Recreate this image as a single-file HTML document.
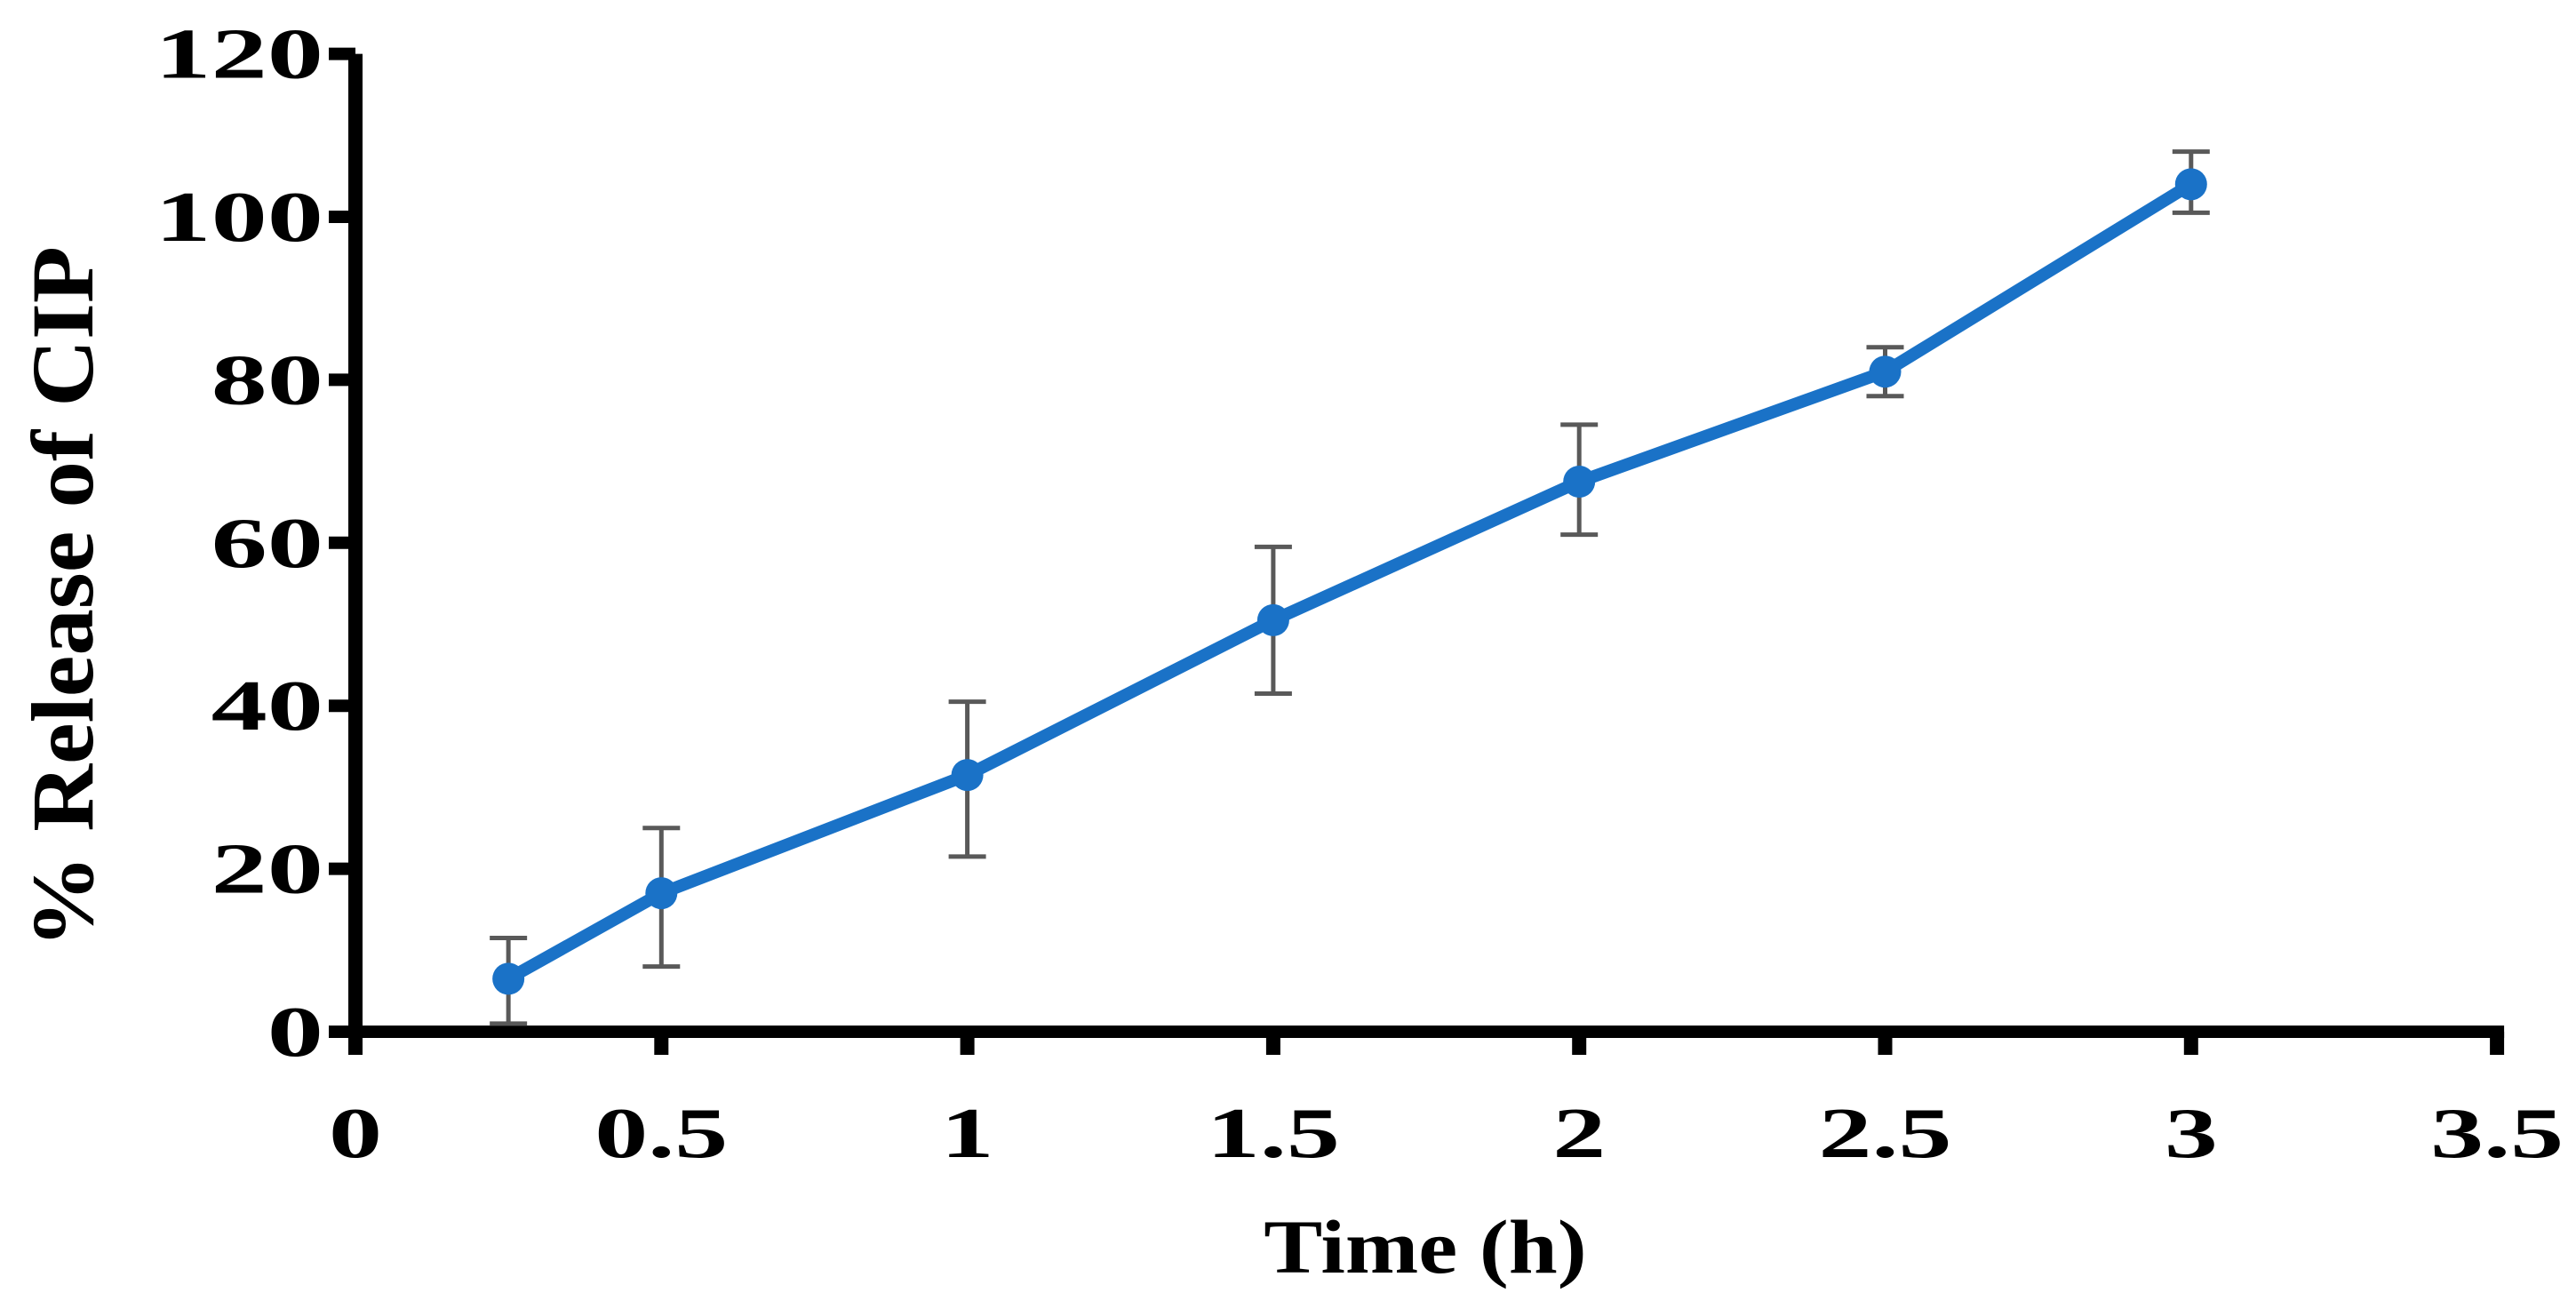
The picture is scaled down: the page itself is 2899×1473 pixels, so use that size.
<!DOCTYPE html>
<html><head><meta charset="utf-8"><style>
html,body{margin:0;padding:0;background:#fff;}
svg{display:block;}
text{font-family:"Liberation Serif",serif;font-weight:bold;fill:#000;}
</style></head><body>
<svg id="chart" width="2899" height="1473" viewBox="0 0 2899 1473">
<g id="axes"></g><g id="series"></g>
</svg>
<script>
const times=[0.25,0.5,1,1.5,2,2.5,3];
const release=[6.5,17,31.5,50.5,67.5,81,104];
const errUp=[11.5,25,40.5,59.5,74.5,84,108];
const errLow=[1,8,21.5,41.5,61,78,100.5];
const xTicks=[0,0.5,1,1.5,2,2.5,3,3.5];
const xTickLabels=["0","0.5","1","1.5","2","2.5","3","3.5"];
const yTicks=[0,20,40,60,80,100,120];
const yTickLabels=["0","20","40","60","80","100","120"];

const NS="http://www.w3.org/2000/svg";
const X0=400,XU=688.6,Y0=1161,YU=9.17;
const sx=v=>X0+v*XU, sy=v=>Y0-v*YU;
function mk(tag,attrs,parent,txt){const e=document.createElementNS(NS,tag);for(const k in attrs)e.setAttribute(k,attrs[k]);if(txt!==undefined)e.textContent=txt;parent.appendChild(e);return e;}
const axes=document.getElementById('axes'),series=document.getElementById('series');

let e=mk('line',{x1:sx(0),y1:sy(0)+12,x2:sx(0),y2:sy(120),stroke:'#000','stroke-width':16},axes);

e=mk('line',{x1:sx(0)-8,y1:sy(0),x2:sx(3.5)+8,y2:sy(0),stroke:'#000','stroke-width':14},axes);


yTicks.forEach((v,i)=>{
  const t=mk('line',{x1:sx(0)-30,y1:sy(v),x2:sx(0),y2:sy(v),stroke:'#000','stroke-width':14},axes);
  
  const l=mk('text',{x:0,y:0,'text-anchor':'end','font-size':80,transform:'translate(364,'+(sy(v)+27)+') scale(1.58,1)'},axes,yTickLabels[i]);
  
});
xTicks.forEach((v,i)=>{
  const t=mk('line',{x1:sx(v),y1:sy(0),x2:sx(v),y2:sy(0)+26,stroke:'#000','stroke-width':16},axes);
  
  const l=mk('text',{x:0,y:0,'text-anchor':'middle','font-size':80,transform:'translate('+sx(v)+',1302) scale(1.5,1)'},axes,xTickLabels[i]);
  
});
e=mk('text',{x:0,y:0,'text-anchor':'middle','font-size':86,transform:'translate(1604,1432) scale(1.15,1)'},axes,'Time  (h)');

e=mk('text',{x:0,y:0,'text-anchor':'middle','font-size':100,textLength:790,lengthAdjust:'spacingAndGlyphs',transform:'translate(104,672) rotate(-90)'},axes,'% Release of CIP');


times.forEach((t,i)=>{
  const g=mk('g',{stroke:'#595959','stroke-width':5},series);
  
  mk('line',{x1:sx(t),y1:sy(errUp[i]),x2:sx(t),y2:sy(errLow[i])},g);
  mk('line',{x1:sx(t)-21,y1:sy(errUp[i]),x2:sx(t)+21,y2:sy(errUp[i])},g);
  mk('line',{x1:sx(t)-21,y1:sy(errLow[i]),x2:sx(t)+21,y2:sy(errLow[i])},g);
});
const pts=times.map((t,i)=>sx(t)+','+sy(release[i])).join(' ');
e=mk('polyline',{points:pts,fill:'none',stroke:'#1a72c7','stroke-width':14,'stroke-linejoin':'round'},series);

times.forEach((t,i)=>{
  const c=mk('circle',{cx:sx(t),cy:sy(release[i]),r:18,fill:'#1a72c7'},series);
  
});
</script>
</body></html>
